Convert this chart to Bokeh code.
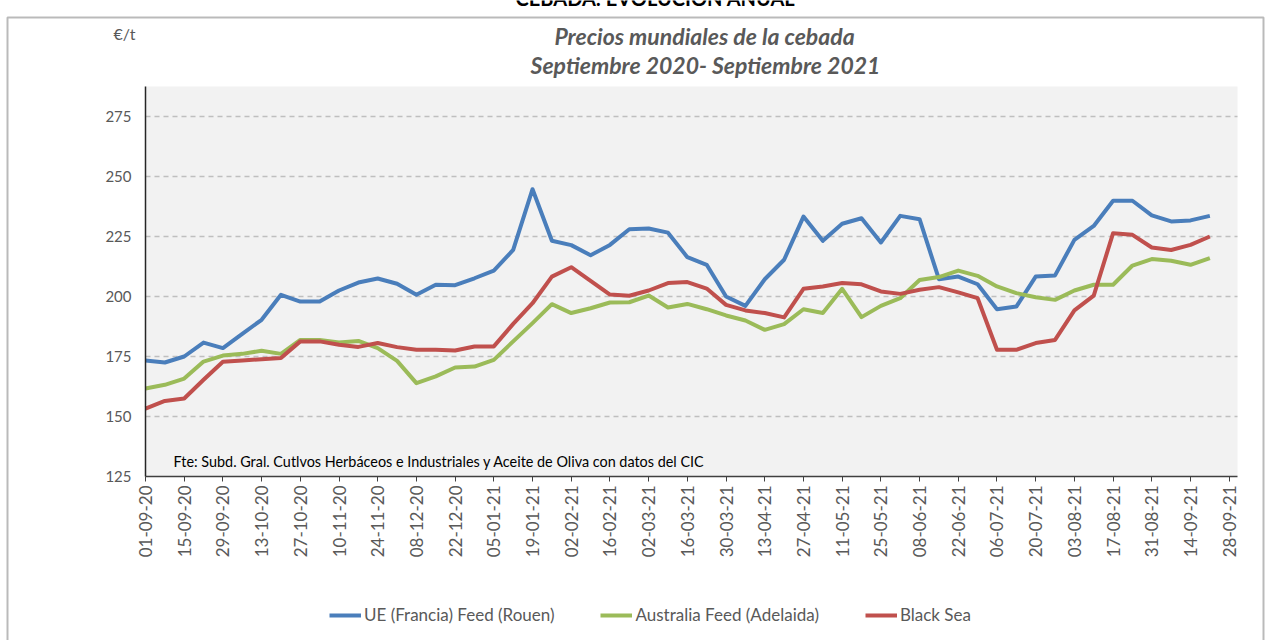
import pandas as pd
from math import pi
from bokeh.plotting import figure
from bokeh.models import (Range1d, FixedTicker, DatetimeTickFormatter, Label,
                          Legend, LegendItem, BoxAnnotation)
from bokeh.embed import file_html
from bokeh.resources import INLINE

# ---------------- data (weekly, from 01-09-20) ----------------
first_date = "2020-09-01"
ue_rouen = [173.3, 172.5, 175.0, 180.8, 178.5, 184.4, 190.3, 200.7, 197.9, 197.9,
            202.5, 205.8, 207.5, 205.3, 200.7, 204.9, 204.7, 207.6, 210.8, 219.4,
            244.7, 223.2, 221.4, 217.2, 221.5, 228.0, 228.3, 226.6, 216.4, 213.2,
            200.0, 196.1, 207.2, 215.3, 233.3, 223.2, 230.3, 232.6, 222.5, 233.6,
            232.2, 207.2, 208.3, 205.1, 194.7, 195.8, 208.3, 208.8, 223.6, 229.4,
            239.9, 239.9, 233.8, 231.3, 231.7, 233.6]
australia = [161.7, 163.2, 165.8, 172.9, 175.4, 176.1, 177.4, 176.1, 181.9, 181.9,
             180.8, 181.5, 178.5, 173.2, 163.9, 166.7, 170.4, 170.8, 173.6, 181.3,
             188.9, 196.8, 193.1, 195.1, 197.5, 197.6, 200.4, 195.4, 196.9, 194.7,
             192.1, 190.0, 186.1, 188.5, 194.7, 193.1, 203.2, 191.4, 196.1, 199.3,
             206.9, 208.1, 210.8, 208.6, 204.2, 201.4, 199.7, 198.6, 202.5, 204.9,
             204.9, 212.9, 215.6, 214.9, 213.2, 216.0]
black_sea = [153.3, 156.5, 157.5, 165.3, 172.8, 173.3, 173.9, 174.4, 181.3, 181.3,
             179.9, 179.0, 180.6, 178.9, 177.8, 177.8, 177.5, 179.2, 179.2, 188.6,
             197.2, 208.3, 212.2, 206.5, 200.8, 200.3, 202.5, 205.6, 206.0, 203.3,
             196.5, 194.2, 193.1, 191.3, 203.2, 204.2, 205.6, 205.1, 202.1, 201.1,
             202.8, 203.9, 201.7, 199.3, 177.8, 177.8, 180.6, 181.9, 194.2, 200.4,
             226.4, 225.7, 220.4, 219.4, 221.5, 225.0]
series_names = ["UE (Francia) Feed (Rouen)", "Australia Feed (Adelaida)", "Black Sea"]
series_colors = ["#4A7EBB", "#9BBB59", "#C0504D"]
y_ticks = [125, 150, 175, 200, 225, 250, 275]
y_min, y_max = 125, 287.5
x_tick_first = "2020-09-01"
x_tick_last = "2021-09-28"
x_axis_end = "2021-10-01"

top_title = "CEBADA: EVOLUCIÓN ANUAL"
title_1 = "Precios mundiales de la cebada"
title_2 = "Septiembre 2020- Septiembre 2021"
unit_text = "€/t"
source_text = "Fte: Subd. Gral. Cutlvos Herbáceos e Industriales y Aceite de Oliva con datos del CIC"

dates = pd.date_range(first_date, periods=len(ue_rouen), freq="7D")
tick_dates = pd.date_range(x_tick_first, x_tick_last, freq="14D")
tick_ms = [int(t.timestamp() * 1000) for t in tick_dates]

# ---------------- layout (page pixels) ----------------
W, H = 1272, 640
PA_L, PA_R, PA_T, PA_B = 145, 1237, 86, 476     # plot-area box on the page
x0_ms = pd.Timestamp(first_date).timestamp() * 1000
x1_ms = pd.Timestamp(x_axis_end).timestamp() * 1000
px_per_ms = (PA_R - PA_L) / (x1_ms - x0_ms)
px_per_unit = (PA_B - PA_T) / (y_max - y_min)
xr = Range1d(x0_ms - PA_L / px_per_ms, x1_ms + (W - PA_R) / px_per_ms)
yr = Range1d(y_min - (H - PA_B) / px_per_unit, y_max + PA_T / px_per_unit)

FONT = "Lato"
GREY = "#595959"

p = figure(width=W, height=H, x_axis_type="datetime",
           output_backend="svg", toolbar_location=None,
           x_range=xr, y_range=yr,
           min_border_left=0, min_border_right=0,
           min_border_top=0, min_border_bottom=0)
p.background_fill_color = "white"
p.border_fill_color = "white"
p.outline_line_color = None
p.xgrid.visible = False
p.ygrid.visible = False

# plot area background
p.add_layout(BoxAnnotation(left=x0_ms, right=x1_ms, bottom=y_min, top=y_max,
                           fill_color="#F2F2F2", fill_alpha=1, line_alpha=0,
                           level="underlay"))
# dashed horizontal grid lines
grid_vals = y_ticks[1:]
p.segment(x0=[x0_ms] * len(grid_vals), x1=[x1_ms] * len(grid_vals),
          y0=grid_vals, y1=grid_vals, line_color="#BFBFBF",
          line_width=1.3, line_dash="5 4")

renderers = []
for vals, col in zip([ue_rouen, australia, black_sea], series_colors):
    r = p.line(dates, vals, line_color=col, line_width=4, line_join="round")
    renderers.append(r)

# axes (placed at the plot-area edges)
p.xaxis.fixed_location = y_min
p.xaxis.bounds = (x0_ms, x1_ms)
p.xaxis.ticker = FixedTicker(ticks=tick_ms)
fmt = "%d-%m-%y"
p.xaxis.formatter = DatetimeTickFormatter(milliseconds=fmt, seconds=fmt, minsec=fmt,
                                          minutes=fmt, hourmin=fmt, hours=fmt,
                                          days=fmt, months=fmt, years=fmt)
p.xaxis.major_label_orientation = pi / 2
p.xaxis.major_label_text_font = FONT
p.xaxis.major_label_text_font_size = "17px"
p.xaxis.major_label_text_color = GREY
p.xaxis.major_tick_out = 5
p.xaxis.major_tick_in = 0
p.xaxis.minor_tick_out = 0
p.xaxis.minor_tick_in = 0
p.xaxis.major_label_standoff = 4
p.xaxis.axis_line_color = "#404040"
p.xaxis.axis_line_width = 1.5
p.xaxis.major_tick_line_color = "#404040"

p.yaxis.fixed_location = x0_ms
p.yaxis.bounds = (y_min, y_max)
p.yaxis.ticker = FixedTicker(ticks=y_ticks)
p.yaxis.major_label_text_font = FONT
p.yaxis.major_label_text_font_size = "15px"
p.yaxis.major_label_text_color = GREY
p.yaxis.major_tick_out = 0
p.yaxis.major_tick_in = 0
p.yaxis.minor_tick_out = 0
p.yaxis.minor_tick_in = 0
p.yaxis.major_label_standoff = 14
p.yaxis.axis_line_color = "#262626"
p.yaxis.axis_line_width = 1.5

# texts (screen units measured from the bottom-left of the canvas)
def lab(text, x, y, size, style="normal", color=GREY, align="center", baseline="middle"):
    p.add_layout(Label(x=x, y=H - y, x_units="screen", y_units="screen", text=text,
                       text_font=FONT, text_font_size=size, text_font_style=style,
                       text_color=color, text_align=align, text_baseline=baseline))

lab(top_title, 655, -3, "20px", style="bold", color="#000000", baseline="alphabetic")
lab(unit_text, 113, 33, "16px", align="left")
lab(title_1, 704, 35, "23px", style="bold italic")
lab(title_2, 705, 64, "23px", style="bold italic")
lab(source_text, 173, 461, "14.4px", color="#000000", align="left")

# outer frame
p.add_layout(BoxAnnotation(left=7, right=1263, top=H - 17, bottom=-20,
                           left_units="screen", right_units="screen",
                           top_units="screen", bottom_units="screen",
                           fill_alpha=0, line_color="#1A1A1A", line_width=2))

legend = Legend(items=[LegendItem(label=n, renderers=[r]) for n, r in zip(series_names, renderers)],
                orientation="horizontal", location=(329, H - 625),
                glyph_width=32, glyph_height=20, label_standoff=3, spacing=46,
                padding=0, margin=0, background_fill_alpha=0, border_line_alpha=0,
                label_text_font=FONT, label_text_font_size="17px",
                label_text_color=GREY)
p.add_layout(legend)

open("out.html", "w").write(file_html(p, INLINE))
